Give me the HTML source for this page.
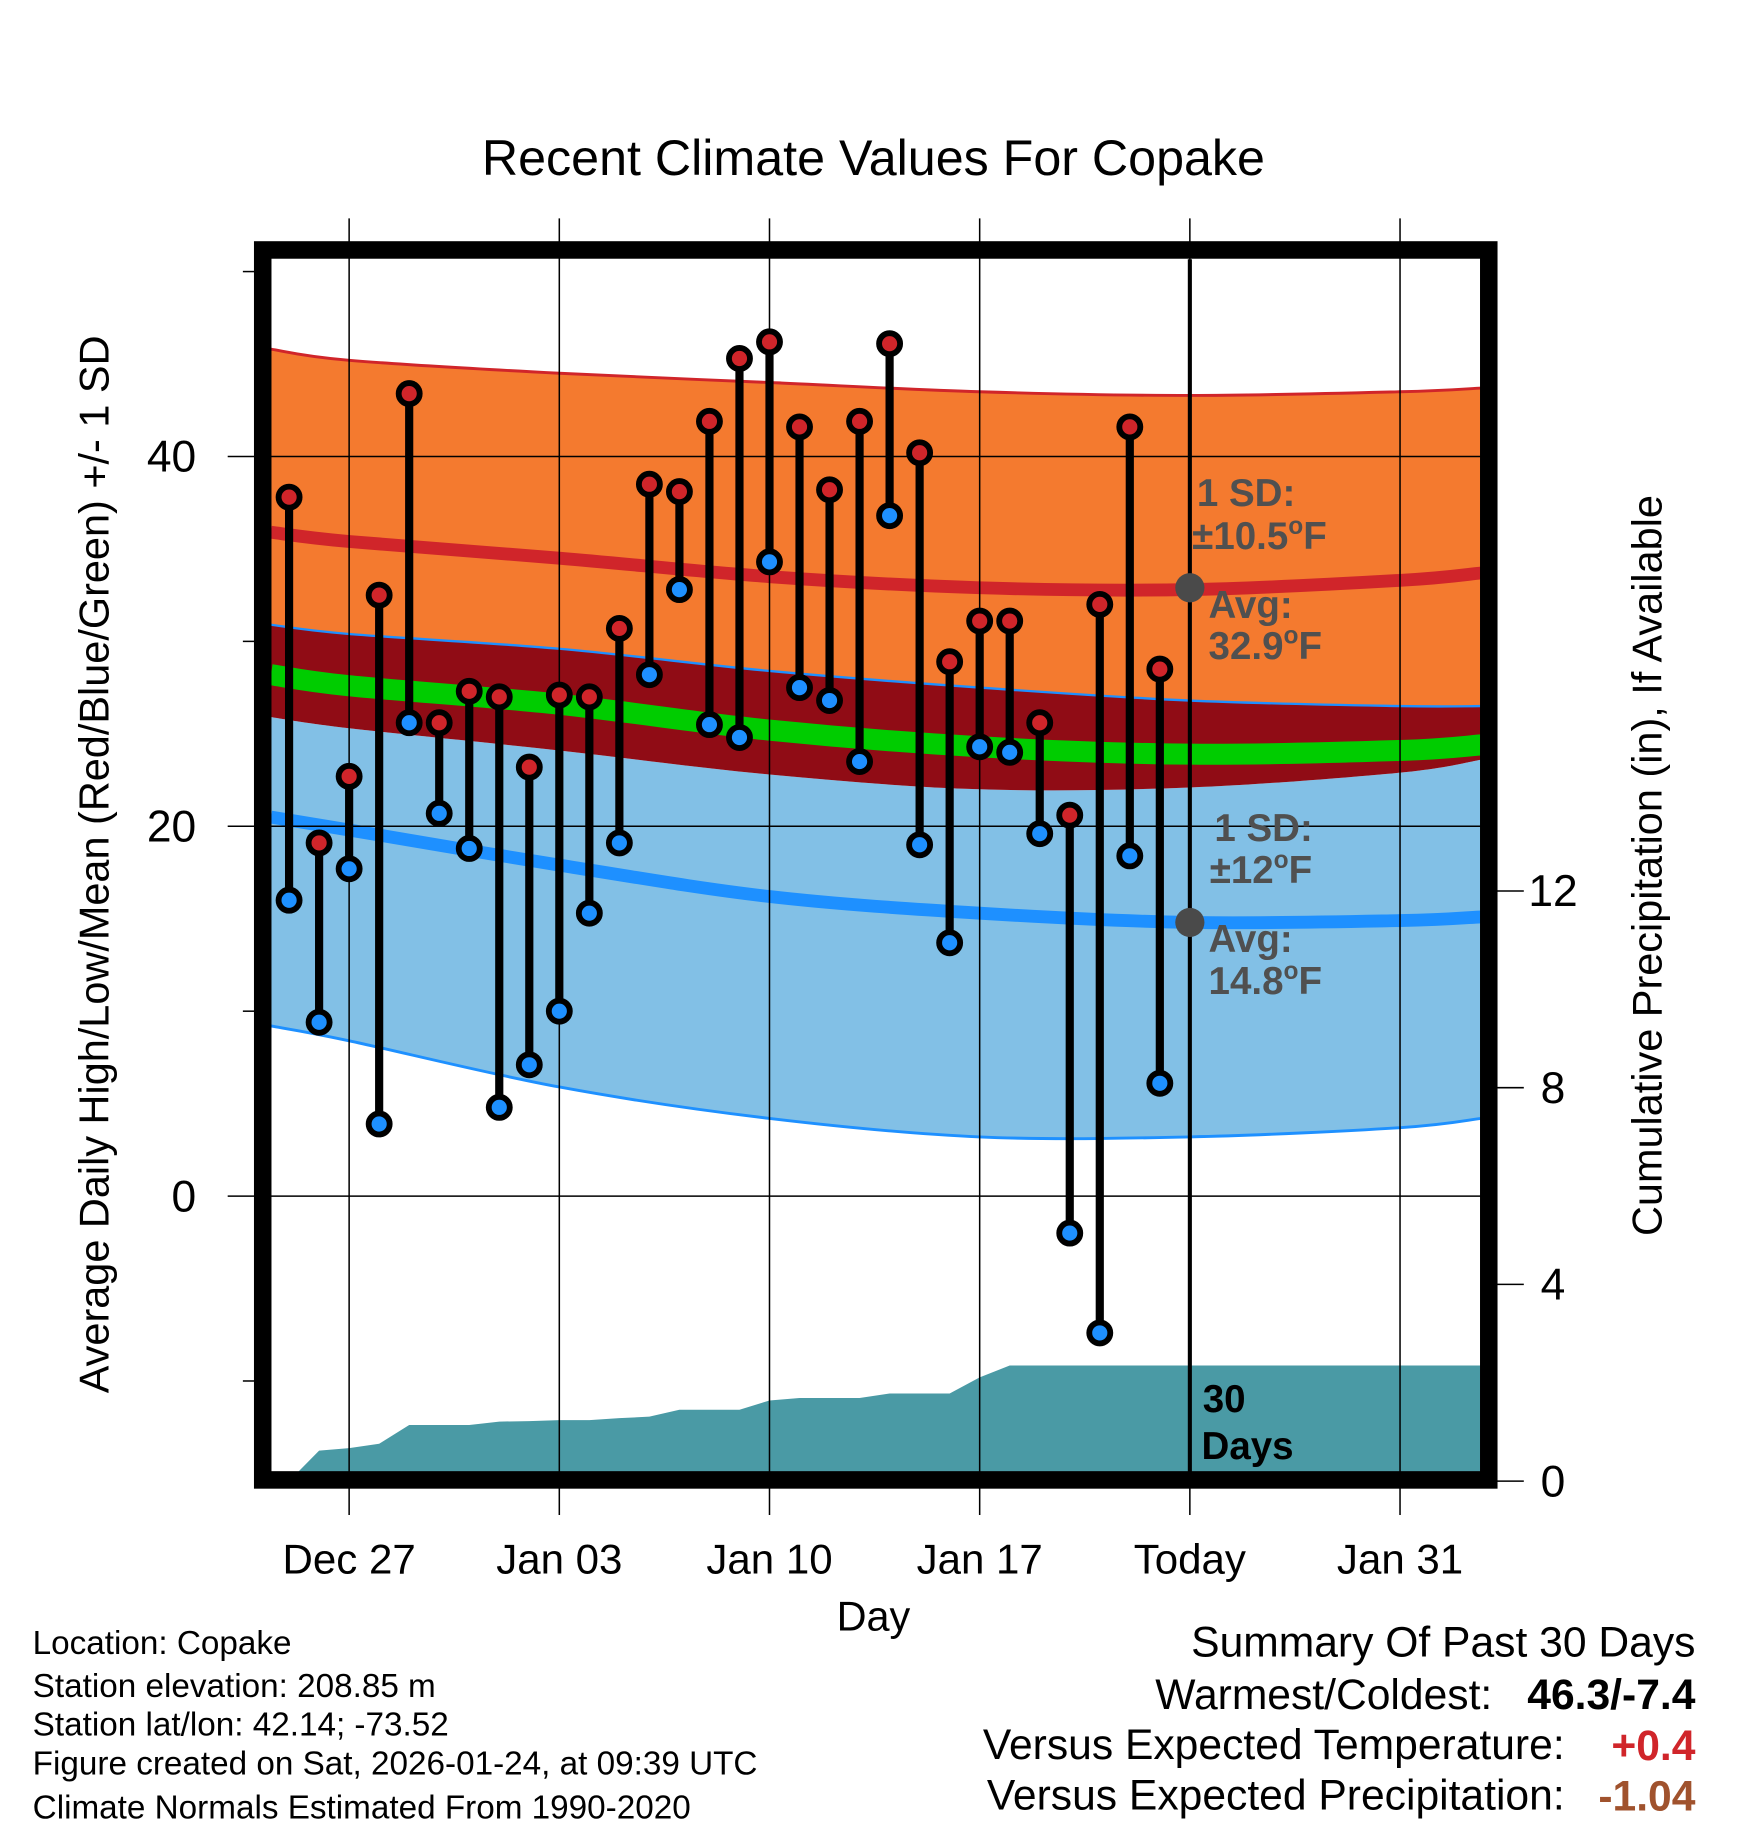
<!DOCTYPE html>
<html><head><meta charset="utf-8"><style>
html,body{margin:0;padding:0;background:#fff;}
svg{display:block;font-family:"Liberation Sans",Arial,sans-serif;}
</style></head><body>
<svg id="chart" width="1748" height="1828" viewBox="0 0 1497 1565" preserveAspectRatio="none" xmlns="http://www.w3.org/2000/svg">
<defs><clipPath id="pc"><rect x="232" y="222" width="1036" height="1038"/></clipPath></defs>
<g id="bands" clip-path="url(#pc)"></g>
<g id="marks"></g>
<text x="748" y="150" font-size="43" text-anchor="middle">Recent Climate Values For Copake</text>
<text transform="translate(93,740) rotate(-90)" font-size="35.5" text-anchor="middle">Average Daily High/Low/Mean (Red/Blue/Green) +/- 1 SD</text>
<text transform="translate(1423,741) rotate(-90)" font-size="35.5" text-anchor="middle">Cumulative Precipitation (in), If Available</text>
<text x="748" y="1396" font-size="35.5" text-anchor="middle">Day</text>
<g font-size="28.5">
<text x="28" y="1416">Location: Copake</text>
<text x="28" y="1453">Station elevation: 208.85 m</text>
<text x="28" y="1486">Station lat/lon: 42.14; -73.52</text>
<text x="28" y="1519">Figure created on Sat, 2026-01-24, at 09:39 UTC</text>
<text x="28" y="1557">Climate Normals Estimated From 1990-2020</text>
</g>
<g font-size="36.5" text-anchor="end">
<text x="1452" y="1418">Summary Of Past 30 Days</text>
<text x="1278" y="1463">Warmest/Coldest:</text>
<text x="1452" y="1463" font-weight="bold">46.3/-7.4</text>
<text x="1340" y="1506">Versus Expected Temperature:</text>
<text x="1452" y="1507" font-weight="bold" fill="#d0252a">+0.4</text>
<text x="1340" y="1549">Versus Expected Precipitation:</text>
<text x="1452" y="1550" font-weight="bold" fill="#a0522d">-1.04</text>
</g>
</svg>
<script>
const days=[-2,-1,0,1,2,3,4,5,6,7,8,9,10,11,12,13,14,15,16,17,18,19,20,21,22,23,24,25,26,27];
const highs=[37.8,19.1,22.7,32.5,43.4,25.6,27.3,27.0,23.2,27.1,27.0,30.7,38.5,38.1,41.9,45.3,46.2,41.6,38.2,41.9,46.1,40.2,28.9,31.1,31.1,25.6,20.6,32.0,41.6,28.5];
const lows=[16.0,9.4,17.7,3.9,25.6,20.7,18.8,4.8,7.1,10.0,15.3,19.1,28.2,32.8,25.5,24.8,34.3,27.5,26.8,23.5,36.8,19.0,13.7,24.3,24.0,19.6,-2.0,-7.4,18.4,6.1];
const precip=[0,0.62,0.67,0.76,1.14,1.14,1.14,1.21,1.22,1.24,1.24,1.28,1.31,1.45,1.45,1.45,1.64,1.69,1.69,1.69,1.78,1.78,1.78,2.11,2.35,2.35,2.35,2.35,2.35,2.35];
const normDays=[-2.6,0,7,14,21,28,35,37.7];
const hiPlus=[45.8,45.2,44.5,44.0,43.5,43.3,43.5,43.7];
const hiAvg=[35.9,35.4,34.5,33.5,32.9,32.8,33.3,33.7];
const hiMinus=[30.9,30.4,29.6,28.4,27.5,26.8,26.5,26.5];
const meanN=[28.2,27.6,26.6,25.2,24.3,23.9,24.1,24.4];
const loPlus=[25.9,25.3,24.1,22.8,22.0,22.1,22.9,23.6];
const loAvg=[20.5,19.8,17.9,16.2,15.3,14.8,14.9,15.1];
const loMinus=[9.2,8.4,5.9,4.2,3.2,3.2,3.7,4.2];
const yTicks=[0,20,40];
const yMinor=[-10,10,30,50];
const pTicks=[0,4,8,12];
const xTickDays=[0,7,14,21,28,35];
const xTickLabels=["Dec 27","Jan 03","Jan 10","Jan 17","Today","Jan 31"];
const todayDay=28, avgHi=32.9, avgLo=14.8;

const X=d=>299+d*180/7;
const Y=v=>1024-v*15.83;
const P=p=>1268-p*42.1;
const NS="http://www.w3.org/2000/svg";
function mk(tag,attrs,parent){const e=document.createElementNS(NS,tag);for(const k in attrs)e.setAttribute(k,attrs[k]);parent.appendChild(e);return e;}
const svg=document.getElementById('chart');
const bands=document.getElementById('bands');
const marks=document.getElementById('marks');
function curve(pts){let s='';
  for(let i=0;i<pts.length-1;i++){const p0=pts[Math.max(0,i-1)],p1=pts[i],p2=pts[i+1],p3=pts[Math.min(pts.length-1,i+2)];
    s+=` C${p1[0]+(p2[0]-p0[0])/6},${p1[1]+(p2[1]-p0[1])/6} ${p2[0]-(p3[0]-p1[0])/6},${p2[1]-(p3[1]-p1[1])/6} ${p2[0]},${p2[1]}`;}
  return s;}
function smooth(arr){const pts=normDays.map((d,i)=>[X(d),Y(arr[i])]);return `M${pts[0][0]},${pts[0][1]}`+curve(pts);}
function revSmooth(arr){const pts=normDays.map((d,i)=>[X(d),Y(arr[i])]).reverse();return ` L${pts[0][0]},${pts[0][1]}`+curve(pts)+'Z';}
let e;
e=mk('path',{d:smooth(hiPlus)+revSmooth(hiMinus),fill:'#f47a2f'},bands);

e=mk('path',{d:smooth(loPlus)+revSmooth(loMinus),fill:'#82c0e6'},bands);

e=mk('path',{d:smooth(hiMinus)+revSmooth(loPlus),fill:'#900c15'},bands);

e=mk('path',{d:smooth(hiPlus),fill:'none',stroke:'#d0252a','stroke-width':2.5},bands);

e=mk('path',{d:smooth(hiMinus),fill:'none',stroke:'#1e90ff','stroke-width':2},bands);

e=mk('path',{d:smooth(loMinus),fill:'none',stroke:'#1e90ff','stroke-width':2.5},bands);

e=mk('path',{d:smooth(hiAvg),fill:'none',stroke:'#d0252a','stroke-width':11},bands);

e=mk('path',{d:smooth(meanN),fill:'none',stroke:'#00cc00','stroke-width':18},bands);

e=mk('path',{d:smooth(loAvg),fill:'none',stroke:'#1e90ff','stroke-width':11},bands);

let pd=`M${X(days[0])},${P(0)}`;
days.forEach((d,i)=>{pd+=` L${X(d)},${P(precip[i])}`;});
pd+=` L1268,${P(precip[precip.length-1])} L1268,1270 L${X(days[0])},1270Z`;
e=mk('path',{d:pd,fill:'#4a9aa5'},bands);

xTickDays.forEach((d,i)=>{
  e=mk('line',{x1:X(d),x2:X(d),y1:187,y2:1297,stroke:'#000','stroke-width':1.3},marks);
  
  e=mk('text',{x:X(d),y:1347,'font-size':36,'text-anchor':'middle'},svg);e.textContent=xTickLabels[i];
  
});
yTicks.forEach(v=>{
  e=mk('line',{x1:195,x2:1268,y1:Y(v),y2:Y(v),stroke:'#000','stroke-width':1.3},marks);
  
  e=mk('text',{x:168,y:Y(v)+13,'font-size':38,'text-anchor':'end'},svg);e.textContent=v;
  
});
yMinor.forEach(v=>{e=mk('line',{x1:208,x2:220,y1:Y(v),y2:Y(v),stroke:'#000','stroke-width':1.3},marks);
  });
pTicks.forEach(p=>{
  e=mk('line',{x1:1280,x2:1305,y1:P(p),y2:P(p),stroke:'#000','stroke-width':1.3},marks);
  
  e=mk('text',{x:1330,y:P(p)+13,'font-size':38,'text-anchor':'middle'},svg);e.textContent=p;
  
});
e=mk('line',{x1:X(todayDay),x2:X(todayDay),y1:222,y2:1260,stroke:'#000','stroke-width':3.5},marks);

days.forEach((d,i)=>{
  e=mk('line',{x1:X(d),x2:X(d),y1:Y(highs[i]),y2:Y(lows[i]),stroke:'#000','stroke-width':7},marks);
  
});
days.forEach((d,i)=>{
  e=mk('circle',{cx:X(d),cy:Y(highs[i]),r:9,fill:'#d0252a',stroke:'#000','stroke-width':5},marks);
  
  e=mk('circle',{cx:X(d),cy:Y(lows[i]),r:9,fill:'#1e90ff',stroke:'#000','stroke-width':5},marks);
  
});
e=mk('circle',{cx:X(todayDay),cy:Y(avgHi),r:12.5,fill:'#4a4a4a'},marks);

e=mk('circle',{cx:X(todayDay),cy:Y(avgLo),r:12.5,fill:'#4a4a4a'},marks);

e=mk('rect',{x:225,y:214,width:1050,height:1053,fill:'none',stroke:'#000','stroke-width':15},marks);

function ann(x,y,txt,name,col){const t=mk('text',{x:x,y:y,'font-size':33,'font-weight':'bold',fill:col||'#505050'},marks);t.innerHTML=txt;
  }
ann(1025,433,'1 SD:','high-sd-label');
ann(1021,470,'±10.5<tspan font-size="21" dy="-13">o</tspan><tspan dy="13">F</tspan>','high-sd-value');
ann(1035,529,'Avg:','high-avg-label');
ann(1035,564,'32.9<tspan font-size="21" dy="-13">o</tspan><tspan dy="13">F</tspan>','high-avg-value');
ann(1040,720,'1 SD:','low-sd-label');
ann(1036,756,'±12<tspan font-size="21" dy="-13">o</tspan><tspan dy="13">F</tspan>','low-sd-value');
ann(1035,815,'Avg:','low-avg-label');
ann(1035,851,'14.8<tspan font-size="21" dy="-13">o</tspan><tspan dy="13">F</tspan>','low-avg-value');
ann(1030,1209,'30','days-count','#000');
ann(1029,1249,'Days','days-label','#000');
</script>
</body></html>
